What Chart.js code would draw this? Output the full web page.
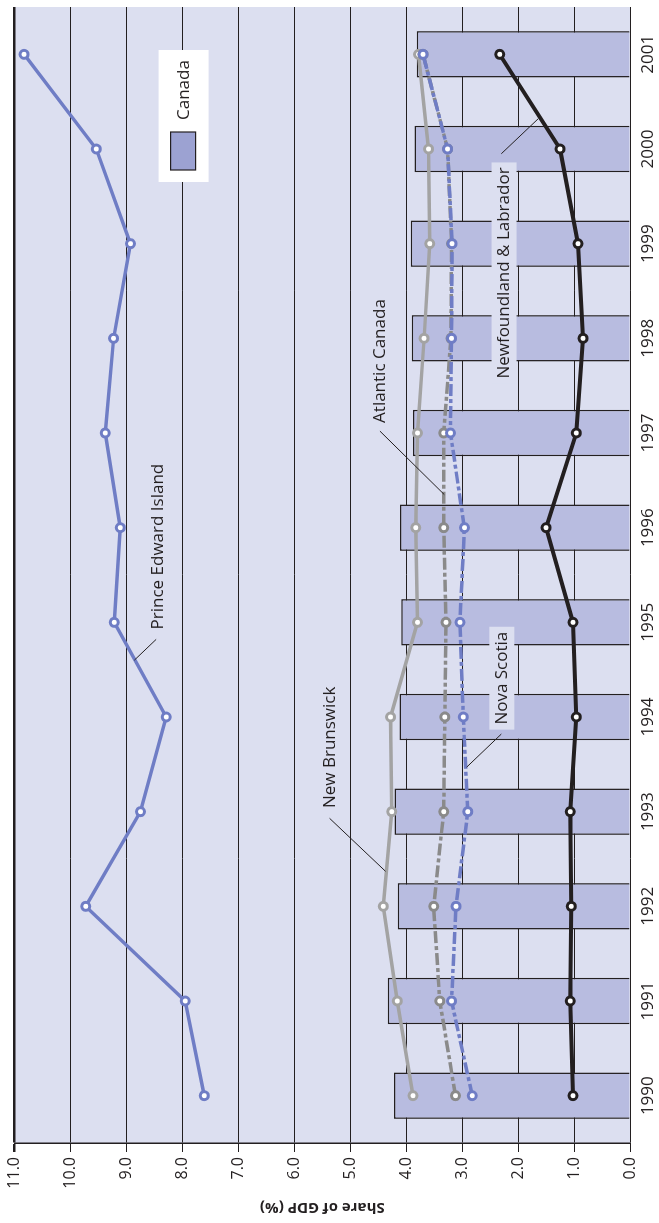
<!DOCTYPE html>
<html>
<head>
<meta charset="utf-8">
<script src="https://cdn.jsdelivr.net/npm/chart.js@4.4.1/dist/chart.umd.min.js"></script>
<style>
  html, body { margin: 0; padding: 0; background: #fff; overflow: hidden; }
  body { width: 659px; height: 1223px; position: relative; }
  /* the chart is laid out landscape and turned a quarter turn to stand upright */
  #wrap {
    position: absolute; left: 0; top: 0;
    width: 1223px; height: 659px;
    transform-origin: 0 0;
    transform: translate(0, 1223px) rotate(-90deg);
  }
</style>
</head>
<body>
<div id="wrap"><canvas id="gdpChart" width="1223" height="659"></canvas></div>
<script>
// share of GDP (%), 1990-2001
const years = ['1990', '1991', '1992', '1993', '1994', '1995', '1996', '1997', '1998', '1999', '2000', '2001']
const canada = [4.22, 4.33, 4.15, 4.21, 4.12, 4.09, 4.11, 3.88, 3.90, 3.92, 3.85, 3.81]
const princeEdwardIsland = [7.61, 7.95, 9.73, 8.75, 8.29, 9.22, 9.11, 9.38, 9.23, 8.93, 9.54, 10.83]
const newBrunswick = [3.88, 4.16, 4.41, 4.26, 4.28, 3.80, 3.83, 3.80, 3.68, 3.58, 3.60, 3.78]
const atlanticCanada = [3.12, 3.40, 3.51, 3.33, 3.31, 3.29, 3.33, 3.33, 3.20, 3.19, 3.26, 3.70]
const novaScotia = [2.82, 3.19, 3.11, 2.90, 2.98, 3.04, 2.96, 3.21, 3.19, 3.18, 3.26, 3.70]
const newfoundland = [1.02, 1.07, 1.05, 1.07, 0.96, 1.02, 1.50, 0.96, 0.84, 0.93, 1.25, 2.33]

const valueTicks = [0, 1, 2, 3, 4, 5, 6, 7, 8, 9, 10, 11]

const ink = '#231f20'
const plotFill = '#dcdff0'
const blue = '#6f7dc5'
const lightGray = '#a3a3a3'
const darkGray = '#8a8a8a'
const fontFace = '"Open Sans", "DejaVu Sans", sans-serif'

// series name labels, placed in data units: [year index, value]
const callouts = [
  { text: 'Prince Edward Island', at: [5.80, 8.45], from: [4.82, 8.47], to: [4.60, 8.86] },
  { text: 'New Brunswick', at: [3.68, 5.38], from: [2.93, 5.37], to: [2.37, 4.37] },
  { text: 'Atlantic Canada', at: [7.76, 4.49], from: [7.02, 4.47], to: [6.35, 3.32] },
  { text: 'Nova Scotia', at: [4.41, 2.30], from: [3.82, 2.30], to: [3.47, 2.92], boxed: true },
  { text: 'Newfoundland & Labrador', at: [8.69, 2.26], from: [9.95, 2.30], to: [10.32, 1.64], boxed: true }
]

const plotBackground = {
  id: 'plotBackground',
  beforeDraw(chart) {
    const a = chart.chartArea
    const c = chart.ctx
    c.save()
    c.fillStyle = plotFill
    c.fillRect(a.left, a.top, a.right - a.left, a.bottom - a.top)
    c.restore()
  }
}

const labelsAndKey = {
  id: 'labelsAndKey',
  afterDraw(chart) {
    const c = chart.ctx
    const xs = chart.scales.x
    const ys = chart.scales.y
    const a = chart.chartArea
    c.save()
    c.font = '17px ' + fontFace
    c.textAlign = 'center'
    c.textBaseline = 'middle'

    callouts.forEach(function (item) {
      const tx = xs.getPixelForValue(item.at[0])
      const ty = ys.getPixelForValue(item.at[1])
      if (item.boxed) {
        const w = c.measureText(item.text).width + 10
        c.fillStyle = plotFill
        c.fillRect(tx - w / 2, ty - 12, w, 25)
      }
      c.strokeStyle = ink
      c.lineWidth = 1
      c.beginPath()
      c.moveTo(xs.getPixelForValue(item.from[0]), ys.getPixelForValue(item.from[1]))
      c.lineTo(xs.getPixelForValue(item.to[0]), ys.getPixelForValue(item.to[1]))
      c.stroke()
      c.fillStyle = ink
      c.fillText(item.text, tx, ty + 1)
    })

    // key for the bars
    const kx = a.right - 175
    const ky = a.top + 144
    c.fillStyle = '#fff'
    c.fillRect(kx, ky, 132, 50)
    c.fillStyle = '#9ca2d2'
    c.fillRect(kx + 12, ky + 12, 38, 25)
    c.strokeStyle = ink
    c.lineWidth = 1.2
    c.strokeRect(kx + 12, ky + 12, 38, 25)
    c.fillStyle = ink
    c.textAlign = 'left'
    c.fillText('Canada', kx + 62, ky + 26)
    c.restore()
  }
}

function lineSeries(label, data, color, width, dash, order) {
  return {
    type: 'line',
    label: label,
    data: data,
    order: order,
    borderColor: color,
    borderWidth: width,
    borderDash: dash,
    tension: 0,
    pointRadius: 4,
    pointBorderWidth: 3,
    pointBorderColor: color,
    pointBackgroundColor: '#fff'
  }
}

const dashDot = [12, 3, 4, 3]

new Chart(document.getElementById('gdpChart'), {
  type: 'bar',
  data: {
    labels: years,
    datasets: [
      {
        label: 'Canada',
        data: canada,
        order: 10,
        backgroundColor: '#b8bce0',
        borderColor: ink,
        borderWidth: 1.5,
        categoryPercentage: 1,
        barPercentage: 0.49
      },
      lineSeries('Prince Edward Island', princeEdwardIsland, blue, 3.5, [], 5),
      lineSeries('New Brunswick', newBrunswick, lightGray, 3.5, [], 4),
      lineSeries('Atlantic Canada', atlanticCanada, darkGray, 3.5, dashDot, 3),
      lineSeries('Nova Scotia', novaScotia, blue, 3.5, dashDot, 2),
      lineSeries('Newfoundland & Labrador', newfoundland, ink, 4, [], 1)
    ]
  },
  options: {
    responsive: false,
    animation: false,
    layout: { padding: { top: 13, right: 0, bottom: 0, left: 0 } },
    plugins: {
      legend: { display: false },
      tooltip: { enabled: false }
    },
    scales: {
      x: {
        grid: { display: false, drawTicks: false },
        border: { display: false },
        ticks: {
          color: ink,
          font: { family: fontFace, size: 17 },
          padding: 8,
          maxRotation: 0,
          autoSkip: false
        },
        afterFit(scale) { scale.height = 29 }
      },
      y: {
        min: 0,
        max: 11,
        afterBuildTicks(scale) { scale.ticks = valueTicks.map(v => ({ value: v })) },
        grid: {
          color: ink,
          lineWidth: ctx => (ctx.tick && ctx.tick.value === 11 ? 2.5 : 1),
          tickLength: 9
        },
        border: { color: ink, width: 1.5 },
        ticks: {
          color: ink,
          font: { family: fontFace, size: 16 },
          padding: 5,
          callback: v => Number(v).toFixed(1)
        },
        title: {
          display: true,
          text: 'Share of GDP (%)',
          color: ink,
          font: { family: fontFace, size: 15, weight: 'bold' },
          padding: { top: 7, bottom: 0 }
        },
        afterFit(scale) { scale.width = 80 }
      }
    }
  },
  plugins: [plotBackground, labelsAndKey]
})
</script>
</body>
</html>
